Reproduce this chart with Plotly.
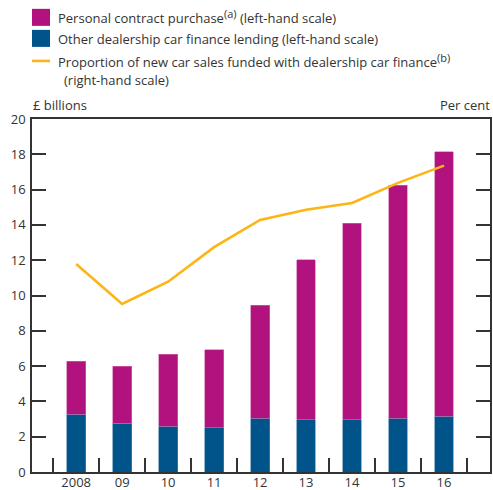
import plotly.graph_objects as go

years = ["2008", "09", "10", "11", "12", "13", "14", "15", "16"]
other_lending = [3.28, 2.75, 2.58, 2.52, 3.05, 2.97, 2.97, 3.05, 3.16]
pcp = [3.00, 3.24, 4.08, 4.42, 6.39, 9.05, 11.13, 13.19, 14.98]
proportion = [58.9, 47.6, 53.9, 63.7, 71.4, 74.3, 76.2, 81.9, 86.8]

left_ticks = [0, 2, 4, 6, 8, 10, 12, 14, 16, 18, 20]

MAGENTA = "#B2127D"
BLUE = "#00548A"
YELLOW = "#FDB515"
AXIS = "#333333"
FONT = "Open Sans"

fig = go.Figure()
fig.add_trace(go.Bar(x=years, y=other_lending, marker=dict(color=BLUE, line=dict(color="#4d87ad", width=0.6)),
                     width=0.41, showlegend=False))
fig.add_trace(go.Bar(x=years, y=pcp, marker=dict(color=MAGENTA, line=dict(color="#d46fb0", width=0.6)),
                     width=0.41, showlegend=False))
fig.add_trace(go.Scatter(x=years, y=proportion, mode="lines", yaxis="y2",
                         line=dict(color=YELLOW, width=2.6), showlegend=False))

fig.update_layout(
    width=493, height=490,
    margin=dict(l=32, r=3, t=119, b=18, autoexpand=False),
    barmode="stack",
    plot_bgcolor="white", paper_bgcolor="white",
    font=dict(family=FONT, size=13, color=AXIS),
    xaxis=dict(type="category", range=[-0.96, 9.0], tickson="boundaries",
               ticks="inside", ticklen=14, tickwidth=1.5, tickcolor=AXIS,
               showline=True, linecolor=AXIS, linewidth=1.5, mirror=True,
               showgrid=False, zeroline=False, tickfont=dict(size=13),
               ticklabelstandoff=-2),
    yaxis=dict(range=[0, 20], tickvals=left_ticks, ticks="inside", ticklen=14,
               tickwidth=1.5, tickcolor=AXIS, showline=True, linecolor=AXIS,
               linewidth=1.5, mirror=True, showgrid=False, zeroline=False,
               tickfont=dict(size=13), ticklabelstandoff=2),
    yaxis2=dict(range=[0, 100], dtick=10, overlaying="y", side="right",
                ticks="inside", ticklen=14, tickwidth=1.5, tickcolor=AXIS,
                showticklabels=False, showgrid=False, zeroline=False, showline=False),
)

# Legend (manual)
shapes = [
    dict(type="rect", xref="paper", yref="paper", x0=0.0, x1=18/458, y0=1 + (119-26)/352.5, y1=1 + (119-9)/352.5,
         fillcolor=MAGENTA, line=dict(width=0)),
    dict(type="rect", xref="paper", yref="paper", x0=0.0, x1=18/458, y0=1 + (119-47)/352.5, y1=1 + (119-30)/352.5,
         fillcolor=BLUE, line=dict(width=0)),
    dict(type="line", xref="paper", yref="paper", x0=0.0, x1=18/458, y0=1 + (119-61)/352.5, y1=1 + (119-61)/352.5,
         line=dict(color=YELLOW, width=2.6)),
]
fig.update_layout(shapes=shapes)

def ann(text, xpx, ypx, xanchor="left"):
    fig.add_annotation(text=text, xref="paper", yref="paper",
                       x=(xpx - 32) / 458, y=1 + (119 - ypx) / 352.5,
                       xanchor=xanchor, yanchor="middle", showarrow=False,
                       font=dict(family=FONT, size=13, color=AXIS), align="left")

SUP = "<sup><span style='font-size:11px'>{}</span></sup>"
ann("Personal contract purchase" + SUP.format("(a)") + " (left-hand scale)", 56, 17)
ann("Other dealership car finance lending (left-hand scale)", 56, 39)
ann("Proportion of new car sales funded with dealership car finance" + SUP.format("(b)"), 56, 61)
ann("(right-hand scale)", 62, 80)
ann("£ billions", 31, 105)
ann("Per cent", 492, 105, xanchor="right")

fig.write_html("out.html", config={"displayModeBar": False},
               post_script="document.body.style.margin='0';document.body.style.overflow='hidden';")
